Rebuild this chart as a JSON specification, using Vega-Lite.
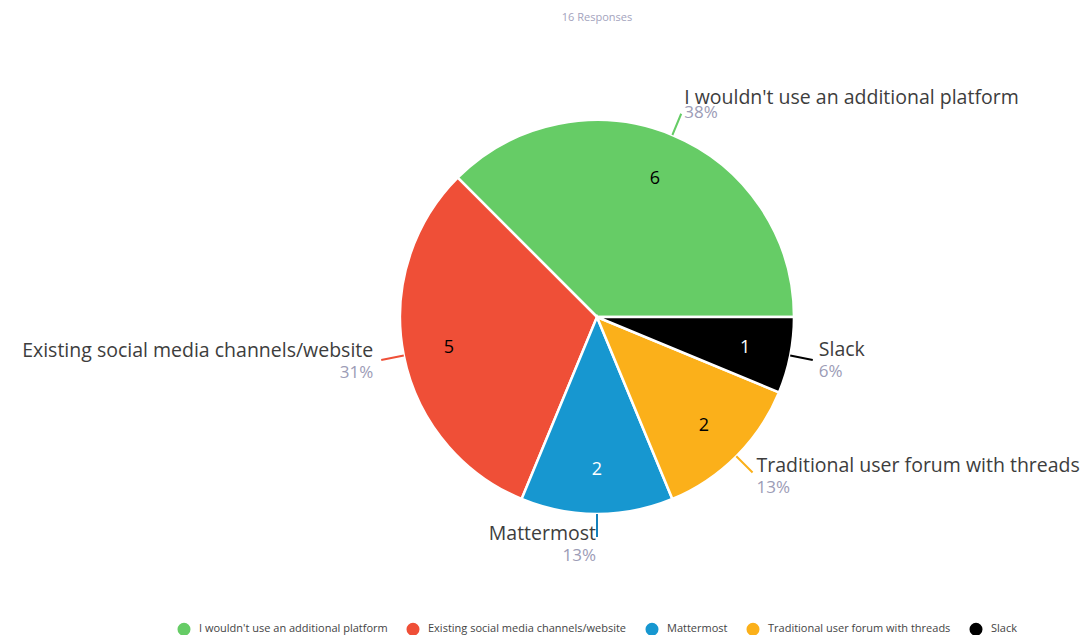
{
  "$schema": "https://vega.github.io/schema/vega-lite/v6.json",
  "width": 974,
  "height": 574,
  "autosize": {"type": "none"},
  "padding": {"left": 110, "top": 30, "right": 0, "bottom": 31},
  "background": "white",
  "title": {"text": "16 Responses", "fontSize": 11, "color": "#a3a3bd", "font": "Open Sans", "fontWeight": "normal", "anchor": "middle", "offset": 7},
  "data": {"values": [
    {"label": "I wouldn't use an additional platform", "count": 6},
    {"label": "Existing social media channels/website", "count": 5},
    {"label": "Mattermost", "count": 2},
    {"label": "Traditional user forum with threads", "count": 2},
    {"label": "Slack", "count": 1}
  ]},
  "transform": [
    {"window": [{"op": "row_number", "as": "idx"}]},
    {"joinaggregate": [{"op": "sum", "field": "count", "as": "total"}]},
    {"window": [{"op": "sum", "field": "count", "as": "cum"}], "sort": [{"field": "idx", "order": "descending"}], "frame": [null, 0]},
    {"calculate": "datum.cum - datum.count", "as": "start"},
    {"calculate": "datum.cum - datum.count / 2", "as": "mid"},
    {"calculate": "round(datum.count / datum.total * 100) + '%'", "as": "pct"}
  ],
  "encoding": {
    "theta": {"field": "mid", "type": "quantitative", "scale": {"domain": [0, 16], "range": [1.5707963267948966, 7.853981633974483]}}
  },
  "layer": [
    {
      "mark": {"type": "arc", "outerRadius": 197, "stroke": "white", "strokeWidth": 2.5},
      "encoding": {
        "theta": {"field": "start", "type": "quantitative", "scale": {"domain": [0, 16], "range": [1.5707963267948966, 7.853981633974483]}},
        "theta2": {"field": "cum"},
        "color": {
          "field": "label", "type": "nominal", "sort": null,
          "scale": {"domain": ["I wouldn't use an additional platform", "Existing social media channels/website", "Mattermost", "Traditional user forum with threads", "Slack"],
                    "range": ["#66cc66", "#ef4f37", "#1797d0", "#fbb01a", "#000000"]},
          "legend": {"orient": "bottom", "direction": "horizontal", "title": null, "symbolType": "circle", "symbolSize": 170, "labelFontSize": 11, "labelFont": "Open Sans", "labelColor": "#444444", "labelLimit": 400, "columnPadding": 18, "offset": 18, "symbolStrokeWidth": 0, "labelOffset": 8}
        }
      }
    },
    {
      "mark": {"type": "arc", "innerRadius": 197, "outerRadius": 220, "strokeWidth": 2, "fill": null},
      "encoding": {
        "theta2": {"field": "mid"},
        "stroke": {"field": "label", "type": "nominal", "legend": null,
                   "scale": {"domain": ["I wouldn't use an additional platform", "Existing social media channels/website", "Mattermost", "Traditional user forum with threads", "Slack"],
                             "range": ["#66cc66", "#ef4f37", "#1380bb", "#fbb01a", "#000000"]}}
      }
    },
    {
      "mark": {"type": "text", "radius": 151, "dy": 2, "fontSize": 18, "font": "Open Sans"},
      "encoding": {
        "text": {"field": "count", "type": "quantitative"},
        "color": {"condition": {"test": "datum.idx === 3 || datum.idx === 5", "value": "white"}, "value": "black"}
      }
    },
    {"transform": [{"filter": "datum.idx === 1"}], "mark": {"type": "text", "radius": 220, "align": "left", "baseline": "alphabetic", "dx": 3, "dy": -10, "fontSize": 19.5, "font": "Open Sans", "color": "#3d3d3d"}, "encoding": {"text": {"field": "label"}}},
    {"transform": [{"filter": "datum.idx === 1"}], "mark": {"type": "text", "radius": 220, "align": "left", "baseline": "alphabetic", "dx": 3, "dy": 4, "fontSize": 17, "font": "Open Sans", "color": "#9c9cb6"}, "encoding": {"text": {"field": "pct"}}},
    {"transform": [{"filter": "datum.idx === 2"}], "mark": {"type": "text", "radius": 220, "align": "right", "baseline": "alphabetic", "dx": -8, "dy": -3, "fontSize": 19.5, "font": "Open Sans", "color": "#3d3d3d"}, "encoding": {"text": {"field": "label"}}},
    {"transform": [{"filter": "datum.idx === 2"}], "mark": {"type": "text", "radius": 220, "align": "right", "baseline": "alphabetic", "dx": -8, "dy": 18, "fontSize": 17, "font": "Open Sans", "color": "#9c9cb6"}, "encoding": {"text": {"field": "pct"}}},
    {"transform": [{"filter": "datum.idx === 3"}], "mark": {"type": "text", "radius": 220, "align": "right", "baseline": "alphabetic", "dx": -1, "dy": 3, "fontSize": 19.5, "font": "Open Sans", "color": "#3d3d3d"}, "encoding": {"text": {"field": "label"}}},
    {"transform": [{"filter": "datum.idx === 3"}], "mark": {"type": "text", "radius": 220, "align": "right", "baseline": "alphabetic", "dx": -1, "dy": 24, "fontSize": 17, "font": "Open Sans", "color": "#9c9cb6"}, "encoding": {"text": {"field": "pct"}}},
    {"transform": [{"filter": "datum.idx === 4"}], "mark": {"type": "text", "radius": 220, "align": "left", "baseline": "alphabetic", "dx": 4, "dy": -1, "fontSize": 19.5, "font": "Open Sans", "color": "#3d3d3d"}, "encoding": {"text": {"field": "label"}}},
    {"transform": [{"filter": "datum.idx === 4"}], "mark": {"type": "text", "radius": 220, "align": "left", "baseline": "alphabetic", "dx": 4, "dy": 20, "fontSize": 17, "font": "Open Sans", "color": "#9c9cb6"}, "encoding": {"text": {"field": "pct"}}},
    {"transform": [{"filter": "datum.idx === 5"}], "mark": {"type": "text", "radius": 220, "align": "left", "baseline": "alphabetic", "dx": 6, "dy": -4, "fontSize": 19.5, "font": "Open Sans", "color": "#3d3d3d"}, "encoding": {"text": {"field": "label"}}},
    {"transform": [{"filter": "datum.idx === 5"}], "mark": {"type": "text", "radius": 220, "align": "left", "baseline": "alphabetic", "dx": 6, "dy": 17, "fontSize": 17, "font": "Open Sans", "color": "#9c9cb6"}, "encoding": {"text": {"field": "pct"}}}
  ],
  "config": {
    "view": {"stroke": null},
    "legend": {"layout": {"bottom": {"anchor": "middle"}}}
  }
}
